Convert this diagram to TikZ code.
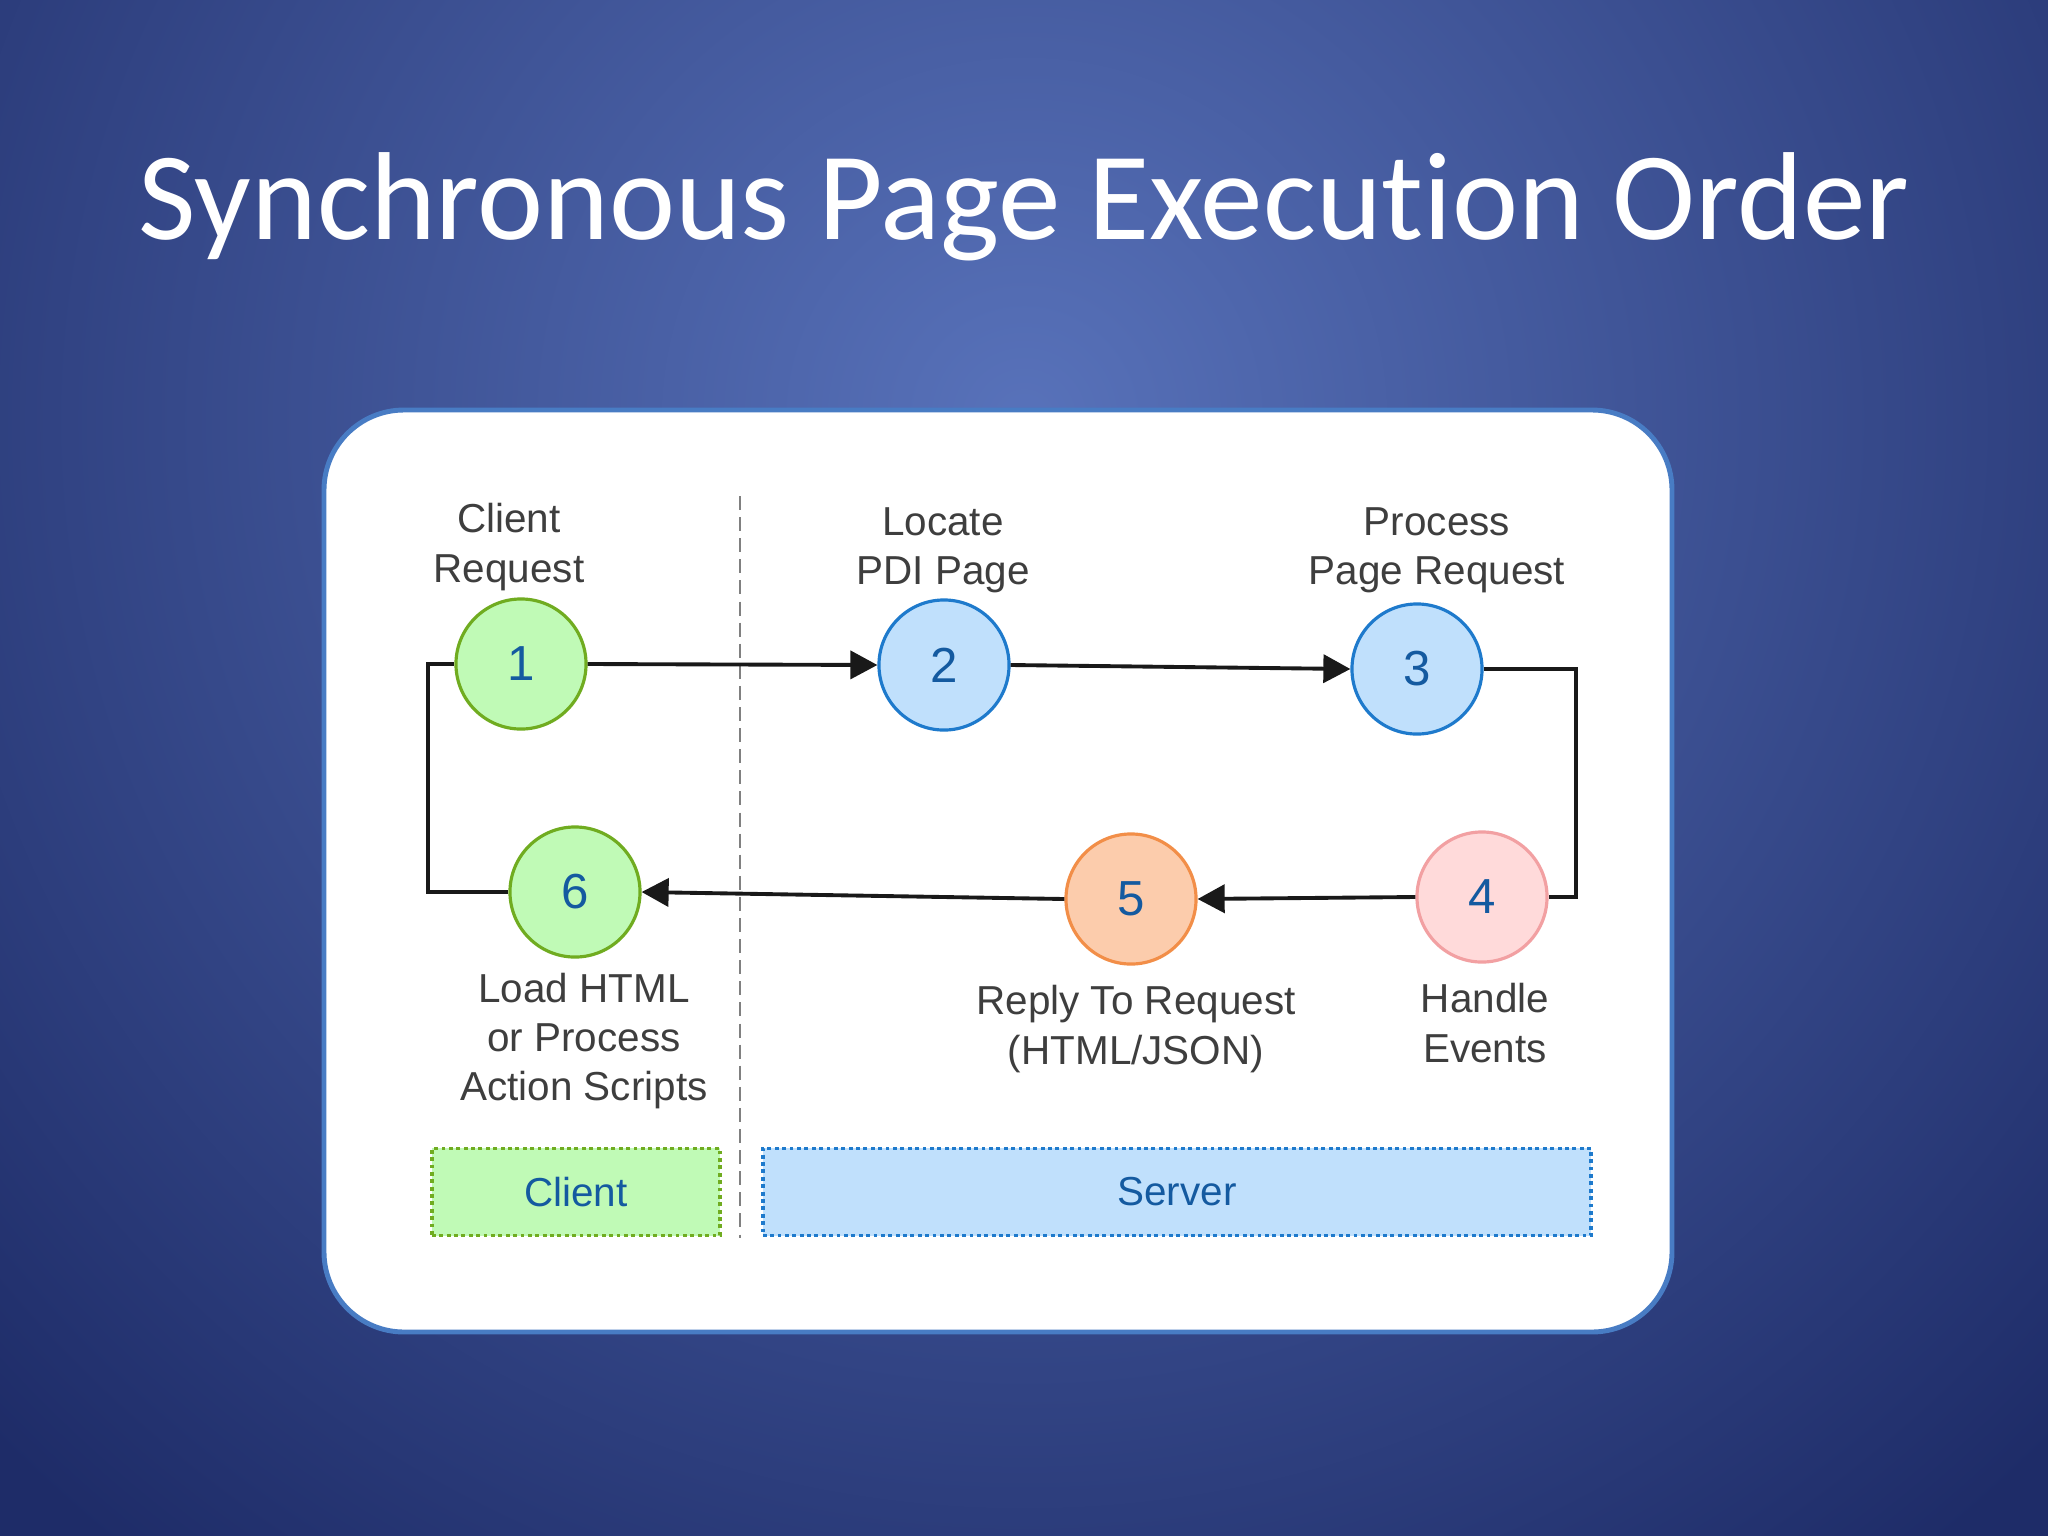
\documentclass[tikz,border=0pt]{standalone}
\usepackage{fontspec}
\setmainfont{Liberation Sans}
\newfontfamily\titlefont[Ligatures={NoCommon}]{Carlito}
\usetikzlibrary{arrows.meta}
\definecolor{bgin}{RGB}{88,114,186}
\definecolor{bgout}{RGB}{30,44,104}
\definecolor{frameblue}{RGB}{72,124,196}
\definecolor{gfill}{RGB}{192,250,182}
\definecolor{gdraw}{RGB}{112,172,32}
\definecolor{bfill}{RGB}{192,224,252}
\definecolor{bdraw}{RGB}{30,122,204}
\definecolor{ofill}{RGB}{252,204,172}
\definecolor{odraw}{RGB}{242,142,72}
\definecolor{pfill}{RGB}{255,218,218}
\definecolor{pdraw}{RGB}{242,160,162}
\definecolor{numblue}{RGB}{20,90,160}
\definecolor{labgray}{RGB}{62,62,62}
\tikzset{
  stepnode/.style={circle, minimum size=1.3cm, inner sep=0pt, line width=0.9pt,
    text=numblue, font=\fontsize{14}{16}\selectfont},
  gnode/.style={stepnode, fill=gfill, draw=gdraw},
  bnode/.style={stepnode, fill=bfill, draw=bdraw},
  onode/.style={stepnode, fill=ofill, draw=odraw},
  pnode/.style={stepnode, fill=pfill, draw=pdraw},
  lab/.style={align=center, text=labgray, inner sep=0pt, font=\fontsize{11.5}{14}\selectfont},
  conn/.style={line width=1.1pt, draw=black!90},
  arr/.style={conn, -{Triangle[length=0.27cm, width=0.28cm]}},
  zone/.style={minimum height=0.87cm, inner sep=0pt, line width=1.1pt, densely dotted,
    text=numblue, font=\fontsize{11.5}{14}\selectfont}
}
\begin{document}
\begin{tikzpicture}[x=0.01cm, y=-0.01cm]
\useasboundingbox (0,0) rectangle (2048,1536);
% background
\fill[bgout] (0,0) rectangle (2048,1536);
\begin{scope}
\clip (0,0) rectangle (2048,1536);
\shade[inner color=bgin, outer color=bgout] (1024,420) circle (1450);
\end{scope}
% title
\node[anchor=base, text=white, font=\titlefont\fontsize{35.6}{40}\selectfont] (title) at (1024,239) {Synchronous Page Execution Order};
% frame
\draw[fill=white, draw=frameblue, line width=1.4pt, rounded corners=0.8cm] (324,410) rectangle (1672,1332);
% divider
\coordinate (dtop) at (740,496);
\coordinate (dbot) at (740,1238);
\draw[gray, line width=0.5pt, dash pattern=on 4pt off 2pt] (dtop) -- (dbot);
% nodes
\node[gnode] (n1) at (521,664) {1};
\node[bnode] (n2) at (944,665) {2};
\node[bnode] (n3) at (1417,669) {3};
\node[pnode] (n4) at (1482,897) {4};
\node[onode] (n5) at (1131,899) {5};
\node[gnode] (n6) at (575,892) {6};
% labels
\node[lab] (l1) at (509,547) {Client\\Request};
\node[lab] (l2) at (943,550) {Locate\\PDI Page};
\node[lab] (l3) at (1437,550) {Process\\Page Request};
\node[lab] (l6) at (584,1041) {Load HTML\\or Process\\Action Scripts};
\node[lab] (l5) at (1136,1029) {Reply To Request\\(HTML/JSON)};
\node[lab] (l4) at (1485,1023) {Handle\\Events};
% connectors
\coordinate (rc) at (1576,780);
\coordinate (lc) at (428,780);
\draw[arr] (n1.east) -- (n2.west);
\draw[arr] (n2.east) -- (n3.west);
\draw[conn] (n3.east) -| (rc) |- (n4.east);
\draw[arr] (n4.west) -- (n5.east);
\draw[arr] (n5.west) -- (n6.east);
\draw[conn] (n6.west) -| (lc) |- (n1.west);
% zones
\node[zone, fill=gfill, draw=gdraw, minimum width=2.88cm] (client) at (576,1192) {Client};
\node[zone, fill=bfill, draw=bdraw, minimum width=8.28cm] (server) at (1177,1192) {Server};
\end{tikzpicture}
\end{document}
